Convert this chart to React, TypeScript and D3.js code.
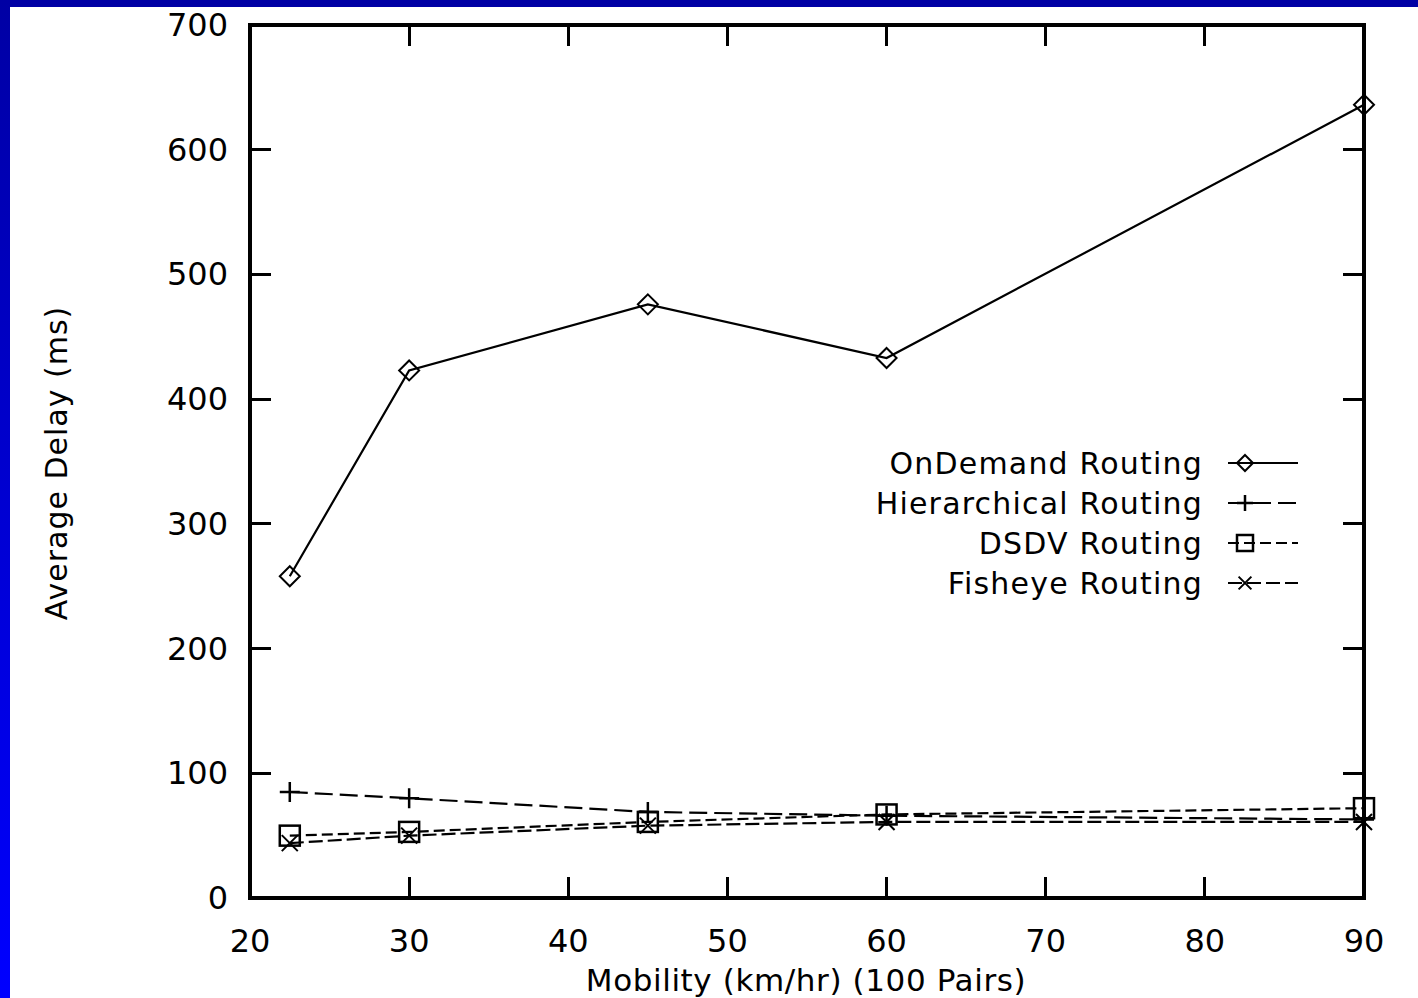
import React, { useEffect } from 'react';
import * as d3 from 'd3';

// values
const speeds = [22.5, 30, 45, 60, 90];
const onDemand = [258, 423, 476, 433, 636];
const hierarchical = [85, 80, 69, 66, 63];
const dsdv = [50, 53, 61, 67, 72];
const fisheye = [44, 50, 58, 61, 61];

const xTicks = [20, 30, 40, 50, 60, 70, 80, 90];
const yTicks = [0, 100, 200, 300, 400, 500, 600, 700];

const seriesNames = ['OnDemand Routing', 'Hierarchical Routing', 'DSDV Routing', 'Fisheye Routing'];

const W = 1418;
const H = 998;
const left = 250, right = 1364, top = 25, bottom = 898;
const font = '"DejaVu Sans", sans-serif';

const Marker = ({ kind, x, y, s }) => {
  if (kind === 'diamond')
    return <path d={`M${x},${y - s}L${x + s},${y}L${x},${y + s}L${x - s},${y}Z`} fill="none" stroke="#000" strokeWidth={2} />;
  if (kind === 'plus')
    return <path d={`M${x - s},${y}H${x + s}M${x},${y - s}V${y + s}`} stroke="#000" strokeWidth={2.5} />;
  if (kind === 'square')
    return <rect x={x - s} y={y - s} width={2 * s} height={2 * s} fill="none" stroke="#000" strokeWidth={2.5} />;
  const k = s * 0.8;
  return <path d={`M${x - k},${y - k}L${x + k},${y + k}M${x - k},${y + k}L${x + k},${y - k}`} stroke="#000" strokeWidth={2} />;
};

export default function App() {
  useEffect(() => {
    document.body.style.margin = '0';
    document.body.style.overflow = 'hidden';
  }, []);

  const x = d3.scaleLinear().domain([20, 90]).range([left, right]);
  const y = d3.scaleLinear().domain([0, 700]).range([bottom, top]);

  const series = [
    { name: seriesNames[0], values: onDemand, marker: 'diamond', dash: null },
    { name: seriesNames[1], values: hierarchical, marker: 'plus', dash: '18 7' },
    { name: seriesNames[2], values: dsdv, marker: 'square', dash: '11 5' },
    { name: seriesNames[3], values: fisheye, marker: 'x', dash: '14 5' },
  ];

  const line = d3.line<number>().x((d, i) => x(speeds[i])).y(d => y(d));

  const legendTextX = 1203;
  const legendY = (i: number) => 463 + i * 40;
  const tick = 21;

  return (
    <svg width={W} height={H} style={{ display: 'block' }}>
      <defs>
        <linearGradient id="bg" x1="0" x2="0" y1="0" y2="1">
          <stop offset="0%" stopColor="#0000a4" />
          <stop offset="100%" stopColor="#0000ff" />
        </linearGradient>
      </defs>
      <rect x={0} y={0} width={W} height={H} fill="url(#bg)" />
      <rect x={10} y={7} width={W - 10} height={H - 7} fill="#fff" />

      {/* ticks on all four sides */}
      <g stroke="#000" strokeWidth={3} shapeRendering="crispEdges">
        {yTicks.map(t => (
          <g key={'y' + t}>
            <line x1={left} x2={left + tick} y1={y(t)} y2={y(t)} />
            <line x1={right - tick} x2={right} y1={y(t)} y2={y(t)} />
          </g>
        ))}
        {xTicks.map(t => (
          <g key={'x' + t}>
            <line x1={x(t)} x2={x(t)} y1={bottom} y2={bottom - tick} />
            <line x1={x(t)} x2={x(t)} y1={top} y2={top + tick} />
          </g>
        ))}
        <rect x={left} y={top} width={right - left} height={bottom - top} fill="none" strokeWidth={4} />
      </g>

      <g fontFamily={font} fontSize={32} fill="#000">
        {yTicks.map(t => (
          <text key={'yl' + t} x={228} y={y(t)} textAnchor="end" dominantBaseline="central">{t}</text>
        ))}
        {xTicks.map(t => (
          <text key={'xl' + t} x={x(t)} y={941} textAnchor="middle" dominantBaseline="central">{t}</text>
        ))}
      </g>

      <text x={806} y={991} textAnchor="middle" fontFamily={font} fontSize={31} letterSpacing={0.6}>Mobility (km/hr) (100 Pairs)</text>
      <text transform="translate(67,463) rotate(-90)" textAnchor="middle" fontFamily={font} fontSize={30} letterSpacing={1}>Average Delay (ms)</text>

      {series.map(s => (
        <g key={s.name}>
          <path d={line(s.values) || ''} fill="none" stroke="#000" strokeWidth={2.2} strokeDasharray={s.dash || undefined} />
          {s.values.map((v, i) => (
            <Marker key={i} kind={s.marker} x={x(speeds[i])} y={y(v)} s={10} />
          ))}
        </g>
      ))}

      {/* key */}
      {series.map((s, i) => (
        <g key={'k' + s.name}>
          <text x={legendTextX} y={legendY(i)} textAnchor="end" dominantBaseline="central" fontFamily={font} fontSize={30} letterSpacing={1.2}>{s.name}</text>
          <line x1={1228} x2={1298} y1={legendY(i)} y2={legendY(i)} stroke="#000" strokeWidth={2.2} strokeDasharray={s.dash || undefined} />
          <Marker kind={s.marker} x={1245} y={legendY(i)} s={8} />
        </g>
      ))}
    </svg>
  );
}
